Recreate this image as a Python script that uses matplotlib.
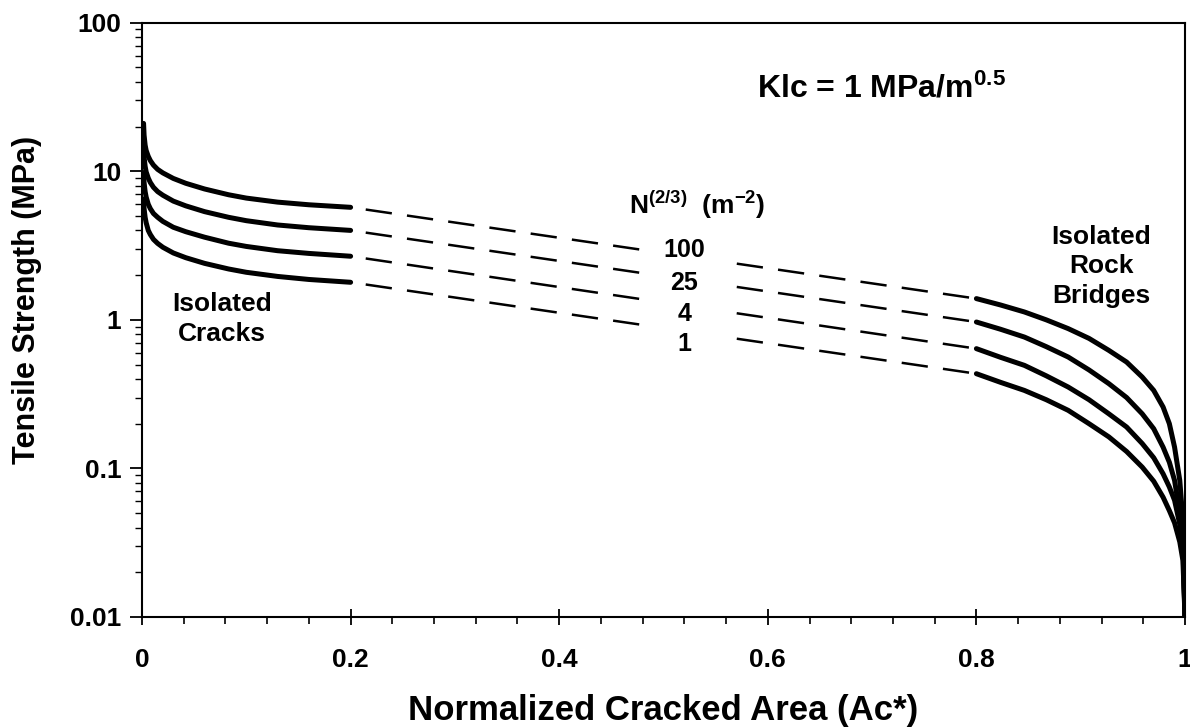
import matplotlib
matplotlib.use("Agg")
import matplotlib.pyplot as plt

plt.rcParams['font.family'] = ['Liberation Sans', 'DejaVu Sans']
plt.rcParams['font.weight'] = 'bold'
plt.rcParams['axes.labelweight'] = 'bold'
plt.rcParams['mathtext.fontset'] = 'custom'
plt.rcParams['mathtext.rm'] = 'Liberation Sans:bold'
plt.rcParams['mathtext.it'] = 'Liberation Sans:bold'
plt.rcParams['mathtext.bf'] = 'Liberation Sans:bold'
plt.rcParams['lines.scale_dashes'] = False

# N^(2/3) values, one curve each
labels = ['100', '25', '4', '1']

# isolated cracks part (solid, 0 - 0.2)
crack_x = [0.0015, 0.002, 0.003, 0.004, 0.006, 0.008, 0.011, 0.015, 0.02,
           0.03, 0.042, 0.06, 0.083, 0.1, 0.13, 0.16, 0.2]
crack_y = [
    [21.0, 17.5, 15.0, 13.8, 12.6, 11.8, 11.0, 10.3, 9.75, 8.95, 8.3, 7.6, 6.95, 6.6, 6.2, 5.95, 5.72],
    [14.5, 12.5, 10.8, 9.9, 9.0, 8.4, 7.8, 7.3, 6.9, 6.3, 5.85, 5.35, 4.9, 4.65, 4.35, 4.17, 4.0],
    [9.8, 8.4, 7.3, 6.7, 6.0, 5.6, 5.2, 4.9, 4.6, 4.2, 3.92, 3.6, 3.28, 3.12, 2.92, 2.8, 2.68],
    [6.5, 5.6, 4.9, 4.5, 4.0, 3.75, 3.48, 3.27, 3.08, 2.82, 2.62, 2.4, 2.2, 2.09, 1.96, 1.87, 1.79],
]

# isolated rock bridges part (solid, 0.8 - 1)
bridge_x = [0.8, 0.823, 0.846, 0.867, 0.888, 0.908, 0.927, 0.944, 0.959,
            0.97, 0.979, 0.985, 0.990, 0.995, 0.998, 1.0]
bridge_y = [
    [1.39, 1.26, 1.13, 1.0, 0.873, 0.75, 0.623, 0.52, 0.412, 0.335, 0.259, 0.2, 0.139, 0.083, 0.045, 0.01],
    [0.967, 0.865, 0.766, 0.66, 0.562, 0.46, 0.372, 0.30, 0.233, 0.185, 0.139, 0.11, 0.083, 0.05, 0.035, 0.01],
    [0.64, 0.56, 0.494, 0.42, 0.353, 0.29, 0.233, 0.19, 0.147, 0.118, 0.092, 0.075, 0.061, 0.042, 0.03, 0.01],
    [0.434, 0.38, 0.335, 0.29, 0.246, 0.20, 0.163, 0.13, 0.102, 0.082, 0.064, 0.052, 0.043, 0.032, 0.024, 0.01],
]

# label positions on the dashed lines
label_x = 0.52
label_y = [2.93, 1.76, 1.10, 0.69]

fig = plt.figure(figsize=(11.9, 7.27), dpi=100)
ax = fig.add_axes([142 / 1190, 1 - 617 / 727, 1043 / 1190, 594.3 / 727])

for i in range(4):
    ax.plot(crack_x, crack_y[i], color='black', lw=3.6,
            solid_capstyle='round', solid_joinstyle='round')
    ax.plot(bridge_x, bridge_y[i], color='black', lw=3.6,
            solid_capstyle='round', solid_joinstyle='round')
    ax.plot([crack_x[-1], bridge_x[0]], [crack_y[i][-1], bridge_y[i][0]],
            color='black', lw=1.8, linestyle=(19, (19, 11)))
    ax.text(label_x, label_y[i], labels[i], fontsize=18, ha='center', va='center',
            zorder=4)

# blank gap in the dashed lines behind the N labels
ax.axvspan(0.484, 0.557, ymin=0.40, ymax=0.63, facecolor='white',
           edgecolor='none', zorder=3)

ax.set_yscale('log')
ax.set_xlim(0, 1)
ax.set_ylim(0.01, 100)
ax.set_xticks([0, 0.2, 0.4, 0.6, 0.8, 1.0])
ax.set_xticklabels(['0', '0.2', '0.4', '0.6', '0.8', '1'])
ax.set_xticks([i * 0.04 for i in range(26)], minor=True)
ax.set_yticks([0.01, 0.1, 1, 10, 100])
ax.set_yticklabels(['0.01', '0.1', '1', '10', '100'])

ax.tick_params(axis='x', which='major', direction='inout', length=12, width=1.3,
               labelsize=19, pad=16)
ax.tick_params(axis='x', which='minor', direction='out', length=5, width=1.2)
ax.tick_params(axis='y', which='major', direction='out', length=9, width=1.3,
               labelsize=19, pad=6)
ax.tick_params(axis='y', which='minor', direction='out', length=5, width=1.0)
for s in ax.spines.values():
    s.set_linewidth(1.5)

ax.set_xlabel('Normalized Cracked Area (Ac*)', fontsize=25)
ax.xaxis.label.set_va('center')
ax.xaxis.set_label_coords(0.5, -0.157)
ax.set_ylabel('Tensile Strength (MPa)', fontsize=22)
ax.yaxis.label.set_va('center')
ax.yaxis.set_label_coords(-0.11, 0.533)

ax.text(0.709, 0.888, r'Klc = 1 MPa/m$^{0.5}$', transform=ax.transAxes,
        fontsize=23, ha='center', va='center')
ax.text(0.532, 0.693, r'N$^{(2/3)}$  (m$^{-2}$)', transform=ax.transAxes,
        fontsize=19, ha='center', va='center')
ax.text(0.077, 0.502, 'Isolated\nCracks', transform=ax.transAxes,
        fontsize=19, ha='center', va='center', linespacing=1.3)
ax.text(0.92, 0.59, 'Isolated\nRock\nBridges', transform=ax.transAxes,
        fontsize=19, ha='center', va='center', linespacing=1.3)

fig.savefig('out.png', dpi=100)
